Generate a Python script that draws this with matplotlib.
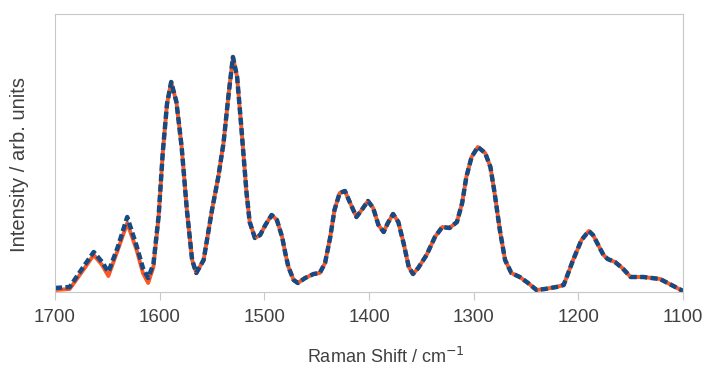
import numpy as np
import matplotlib.pyplot as plt

plt.rcParams['font.family'] = ['Liberation Sans', 'DejaVu Sans']

# Raman shift (cm-1) and intensities
shift = [1700, 1686, 1673, 1663, 1655, 1649, 1640, 1631, 1622, 1616, 1611, 1606,
         1601, 1597, 1593, 1589, 1584, 1579, 1574, 1569, 1565, 1558, 1550, 1544,
         1539, 1534, 1530, 1526, 1522, 1517, 1514, 1509, 1504, 1499, 1493, 1488,
         1483, 1480, 1477, 1472, 1468, 1461, 1453, 1447, 1442, 1437, 1433, 1428,
         1423, 1418, 1412, 1407, 1401, 1396, 1391, 1386, 1382, 1377, 1372, 1367,
         1362, 1358, 1353, 1345, 1337, 1330, 1323, 1316, 1311, 1307, 1302, 1296,
         1289, 1284, 1280, 1275, 1270, 1264, 1256, 1248, 1240, 1232, 1221, 1214,
         1210, 1205, 1197, 1190, 1186, 1181, 1176, 1172, 1165, 1158, 1150, 1138,
         1122, 1111, 1100]
measured = [2, 3, 22, 37, 27, 16, 42, 69, 42, 19, 9, 25,
            75, 140, 188, 210, 190, 145, 82, 32, 19, 32, 82, 115,
            149, 199, 235, 215, 165, 99, 70, 54, 57, 67, 77, 72,
            55, 39, 25, 12, 9, 14, 18, 19, 29, 55, 82, 99,
            101, 89, 75, 82, 91, 84, 67, 60, 69, 78, 70, 49,
            25, 18, 24, 37, 55, 65, 64, 70, 89, 115, 135, 145,
            139, 125, 99, 62, 32, 19, 15, 9, 2, 3, 5, 7,
            18, 32, 52, 61, 57, 47, 37, 33, 30, 24, 15, 15,
            13, 7, 1]
fitted = [4, 5, 25, 40, 30, 20, 45, 75, 46, 24, 14, 28,
          76, 140, 188, 210, 190, 145, 82, 32, 19, 32, 82, 115,
          149, 199, 235, 215, 165, 99, 70, 54, 57, 67, 77, 72,
          55, 39, 25, 12, 9, 14, 18, 19, 29, 55, 82, 99,
          101, 89, 75, 82, 91, 84, 67, 60, 69, 78, 70, 49,
          25, 18, 24, 37, 55, 65, 64, 70, 89, 115, 135, 145,
          139, 125, 99, 62, 32, 19, 15, 9, 2, 3, 5, 7,
          18, 32, 52, 61, 57, 47, 37, 33, 30, 24, 15, 15,
          13, 7, 1]

fig = plt.figure(figsize=(7.09, 3.72), dpi=100)
ax = fig.add_axes([55/709, 1-292/372, 628/709, 278/372])

ax.plot(shift, measured, color='#ff5722', lw=2.8, solid_joinstyle='round')
ax.plot(shift, fitted, color='#164a82', lw=3.2, dashes=(1.6, 0.75),
        dash_joinstyle='round')

ax.set_xlim(1700, 1100)
ax.set_ylim(0, 278)
ax.set_xticks([1700, 1600, 1500, 1400, 1300, 1200, 1100])
ax.set_yticks([])
for s in ax.spines.values():
    s.set_color('#c8c8c8')
ax.tick_params(axis='x', colors='#c8c8c8', length=6, labelcolor='#404040',
               labelsize=13.5, pad=6)
ax.set_xlabel('Raman Shift / cm$^{-1}$', fontsize=13, color='#404040')
ax.set_ylabel('Intensity / arb. units', fontsize=14.5, color='#404040')
ax.xaxis.set_label_coords(0.527, -0.198)
ax.yaxis.set_label_coords(-0.042, 0.46)

fig.savefig('out.png', dpi=100)
